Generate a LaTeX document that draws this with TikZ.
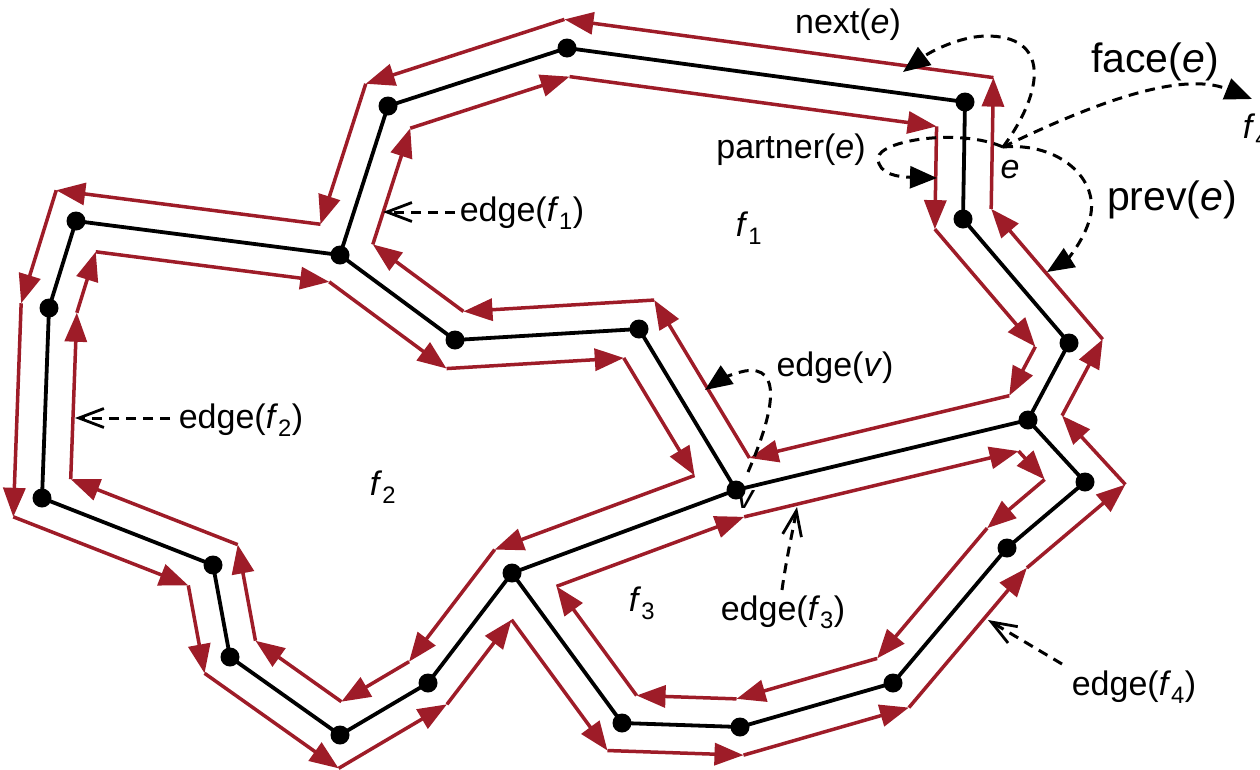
\documentclass[tikz,border=0pt]{standalone}
\usepackage{fontspec}
\setmainfont{Liberation Sans}
\usetikzlibrary{calc,arrows.meta}
\definecolor{hred}{RGB}{158,28,40}
\newcommand\hoff{28pt}
% corner of the offset loop (right side of travel prv -> cur -> nxt)
\newcommand\mkcorner[4]{%
  \path let \p1=($(#4)-(#3)$), \p2=($(#2)-(#3)$),
    \n1={atan2(\y1,\x1)}, \n2={atan2(\y2,\x2)},
    \n3={mod(\n1-(\n2)+720,360)}
  in coordinate (#1) at ($(#3)+({\n1-0.5*\n3}:{\hoff/sin(0.5*\n3)})$);}
\begin{document}
\begin{tikzpicture}[x=1pt,y=-1pt,
  vtx/.style={circle,fill=black,inner sep=0pt,minimum size=19pt},
  edg/.style={line width=3.8pt,black},
  half/.style={line width=3.5pt,hred,-{Triangle[length=29pt,width=22pt]}},
  ann/.style={line width=3pt,dash pattern=on 10pt off 7pt,-{Triangle[length=27pt,width=22pt]}},
  ptr/.style={line width=3pt,dash pattern=on 10pt off 7pt,-{Straight Barb[length=25pt,width=19pt,line width=2.8pt]}},
  lbl/.style={font=\fontsize{34}{40}\selectfont,inner sep=0pt},
  blbl/.style={font=\fontsize{41}{48}\selectfont,inner sep=0pt}]
\useasboundingbox (0,0) rectangle (1260,769);
% vertices
\coordinate (A) at (567,48);
\coordinate (B) at (388,106);
\coordinate (C) at (965,102);
\coordinate (D) at (963,219);
\coordinate (E) at (340,255);
\coordinate (F) at (76,221);
\coordinate (G) at (49,308);
\coordinate (H) at (42,498);
\coordinate (I) at (213,565);
\coordinate (J) at (230,657);
\coordinate (K) at (340,735);
\coordinate (L) at (428,683);
\coordinate (M) at (512,573);
\coordinate (N) at (455,340);
\coordinate (O) at (639,329);
\coordinate (P) at (736,490);
\coordinate (Q) at (1069,343);
\coordinate (R) at (1028,420);
\coordinate (S) at (1085,482);
\coordinate (T) at (1007,548);
\coordinate (U) at (893,683);
\coordinate (W) at (740,727);
\coordinate (X) at (622,723);
% offset corners
\foreach \prv/\cur/\nxt in {E/B/A,B/A/C,A/C/D,C/D/Q,D/Q/R,Q/R/P,R/P/O,P/O/N,O/N/E,N/E/B}
  {\mkcorner{a\cur}{\prv}{\cur}{\nxt}}
\foreach \prv/\cur/\nxt in {G/F/E,F/E/N,E/N/O,N/O/P,O/P/M,P/M/L,M/L/K,L/K/J,K/J/I,J/I/H,I/H/G,H/G/F}
  {\mkcorner{b\cur}{\prv}{\cur}{\nxt}}
\foreach \prv/\cur/\nxt in {X/M/P,M/P/R,P/R/S,R/S/T,S/T/U,T/U/W,U/W/X,W/X/M}
  {\mkcorner{c\cur}{\prv}{\cur}{\nxt}}
\foreach \prv/\cur/\nxt in {D/C/A,C/A/B,A/B/E,B/E/F,E/F/G,F/G/H,G/H/I,H/I/J,I/J/K,J/K/L,K/L/M,L/M/X,M/X/W,X/W/U,W/U/T,U/T/S,T/S/R,S/R/Q,R/Q/D,Q/D/C}
  {\mkcorner{d\cur}{\prv}{\cur}{\nxt}}
% half-edges
\foreach \s/\t in {B/A,A/C,C/D,D/Q,Q/R,R/P,P/O,O/N,N/E,E/B}
  \draw[half] (a\s) -- (a\t);
\foreach \s/\t in {F/E,E/N,N/O,O/P,P/M,M/L,L/K,K/J,J/I,I/H,H/G,G/F}
  \draw[half] (b\s) -- (b\t);
\foreach \s/\t in {M/P,P/R,R/S,S/T,T/U,U/W,W/X,X/M}
  \draw[half] (c\s) -- (c\t);
\foreach \s/\t in {C/A,A/B,B/E,E/F,F/G,G/H,H/I,I/J,J/K,K/L,L/M,M/X,X/W,W/U,U/T,T/S,S/R,R/Q,Q/D,D/C}
  \draw[half] (d\s) -- (d\t);
% edges
\foreach \s/\t in {A/C,C/D,D/Q,Q/R,R/P,P/O,O/N,N/E,E/B,B/A,E/F,F/G,G/H,H/I,I/J,J/K,K/L,L/M,M/P,R/S,S/T,T/U,U/W,W/X,X/M}
  \draw[edg] (\s) -- (\t);
\foreach \v in {A,B,C,D,E,F,G,H,I,J,K,L,M,N,O,P,Q,R,S,T,U,W,X}
  \node[vtx] (dot\v) at (\v) {};
% labels
\node[lbl] (lnext) at (848,25) {next(\textit{e})};
\node[blbl] (lface) at (1155,62) {face(\textit{e})};
\node[lbl] (lpartner) at (791,150) {partner(\textit{e})};
\node[blbl] (lprev) at (1172,200) {prev(\textit{e})};
\node[lbl] (le) at (1010,170) {\textit{e}};
\node[lbl] (lv) at (746,500) {\textit{v}};
\node[lbl] (lf1) at (749,228) {\textit{f}\textsubscript{1}};
\node[lbl] (lf2) at (383,487) {\textit{f}\textsubscript{2}};
\node[lbl] (lf3) at (642,603) {\textit{f}\textsubscript{3}};
\node[lbl] (lf4) at (1256,130) {\textit{f}\textsubscript{4}};
\node[lbl] (lef1) at (522,213) {edge(\textit{f}\textsubscript{1})};
\node[lbl] (lef2) at (241,420) {edge(\textit{f}\textsubscript{2})};
\node[lbl] (lef3) at (783,612) {edge(\textit{f}\textsubscript{3})};
\node[lbl] (lef4) at (1134,687) {edge(\textit{f}\textsubscript{4})};
\node[lbl] (lev) at (835,368) {edge(\textit{v})};
% annotation connectors
\coordinate (eP) at (1003,147);
\coordinate (nextT) at (903,72);
\coordinate (faceT) at (1252,99);
\coordinate (partT) at (937,178);
\coordinate (prevT) at (1047,272);
\coordinate (evS) at (748,472);
\coordinate (evT) at (705,390);
\coordinate (f1S) at (455,212);
\coordinate (f1T) at (383,212);
\coordinate (f2S) at (170,418);
\coordinate (f2T) at (75,418);
\coordinate (f3S) at (782,590);
\coordinate (f3T) at (797,507);
\coordinate (f4S) at (1062,664);
\coordinate (f4T) at (988,620);
\draw[ann] (eP) .. controls (1045,90) and (1050,35) .. (985,36) .. controls (958,37) and (930,52) .. (nextT);
\draw[ann] (eP) .. controls (1090,105) and (1180,70) .. (faceT);
\draw[ann] (eP) .. controls (960,128) and (880,140) .. (878,158) .. controls (878,175) and (900,177) .. (partT);
\draw[ann] (eP) .. controls (1060,142) and (1100,180) .. (1090,218) .. controls (1083,243) and (1066,260) .. (prevT);
\draw[ann] (evS) .. controls (775,410) and (782,365) .. (745,371) .. controls (730,374) and (718,381) .. (evT);
\draw[ptr] (f1S) -- (f1T);
\draw[ptr] (f2S) -- (f2T);
\draw[ptr] (f3S) .. controls (786,560) and (793,530) .. (f3T);
\draw[ptr] (f4S) -- (f4T);
\end{tikzpicture}
\end{document}
